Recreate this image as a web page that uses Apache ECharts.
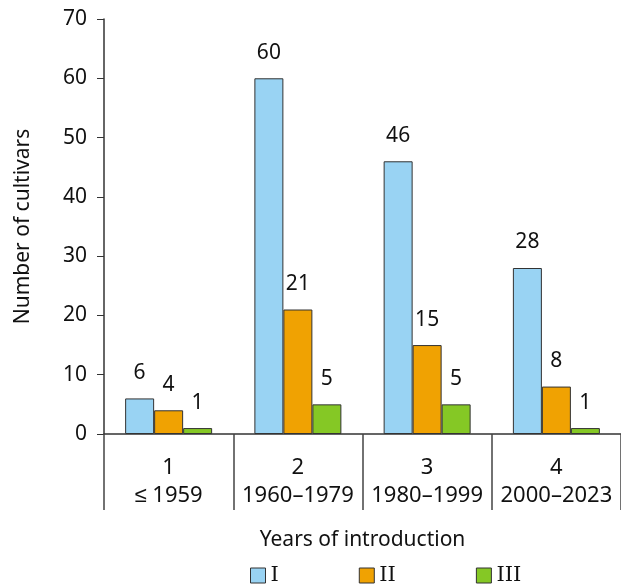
<!DOCTYPE html>
<html>
<head>
<meta charset="utf-8">
<script src="https://cdn.jsdelivr.net/npm/echarts@6/dist/echarts.min.js"></script>
<style>
  html, body { margin: 0; padding: 0; background: #fff; }
  #chart { width: 621px; height: 586px; }
</style>
</head>
<body>
<div id="chart"></div>
<script>
const categories = ['1\n\u2264 1959', '2\n1960\u20131979', '3\n1980\u20131999', '4\n2000\u20132023'];
const seriesNames = ['I', 'II', 'III'];
const valuesI = [6, 60, 46, 28];
const valuesII = [4, 21, 15, 8];
const valuesIII = [1, 5, 5, 1];
const colors = ['#99d3f3', '#f0a202', '#85c825'];

const font = '"Noto Sans", sans-serif';
const chart = echarts.init(document.getElementById('chart'));

const makeSeries = (name, data, i) => ({
  name,
  type: 'bar',
  data,
  barWidth: 29,
  barGap: '0%',
  itemStyle: { color: colors[i], borderColor: '#333', borderWidth: 1 },
  label: {
    show: true,
    position: 'top',
    distance: 15,
    color: '#111',
    fontFamily: font,
    fontSize: 21,
  },
});

chart.setOption({
  animation: false,
  grid: { left: 104, right: 0, top: 19, bottom: 152, containLabel: false },
  legend: {
    bottom: -5,
    left: 245,
    itemWidth: 15,
    itemHeight: 15,
    itemGap: 80,
    icon: 'rect',
    data: seriesNames.map((n, i) => ({
      name: n,
      itemStyle: { color: colors[i], borderColor: '#333', borderWidth: 1 },
    })),
    textStyle: { fontFamily: '"DejaVu Serif", serif', fontSize: 21, color: '#111' },
  },
  xAxis: {
    type: 'category',
    data: categories,
    name: 'Years of introduction',
    nameLocation: 'middle',
    nameGap: 96,
    nameTextStyle: { fontFamily: font, fontSize: 21, color: '#111' },
    axisLine: { lineStyle: { color: '#333', width: 1.5 } },
    axisTick: { show: true, interval: 0, length: 76, lineStyle: { color: '#444', width: 1.5 } },
    axisLabel: {
      interval: 0,
      fontFamily: font,
      fontSize: 22,
      color: '#111',
      lineHeight: 28,
      margin: 20,
    },
  },
  yAxis: {
    type: 'value',
    min: 0,
    max: 70,
    interval: 10,
    name: 'Number of cultivars',
    nameLocation: 'middle',
    nameGap: 70,
    nameTextStyle: { fontFamily: font, fontSize: 21, color: '#111' },
    axisLine: { show: true, lineStyle: { color: '#333', width: 1.5 } },
    axisTick: { show: true, length: 7, lineStyle: { color: '#333' } },
    axisLabel: { fontFamily: font, fontSize: 21, color: '#111', margin: 17 },
    splitLine: { show: false },
  },
  series: [
    makeSeries(seriesNames[0], valuesI, 0),
    makeSeries(seriesNames[1], valuesII, 1),
    makeSeries(seriesNames[2], valuesIII, 2),
  ],
});
</script>
</body>
</html>
